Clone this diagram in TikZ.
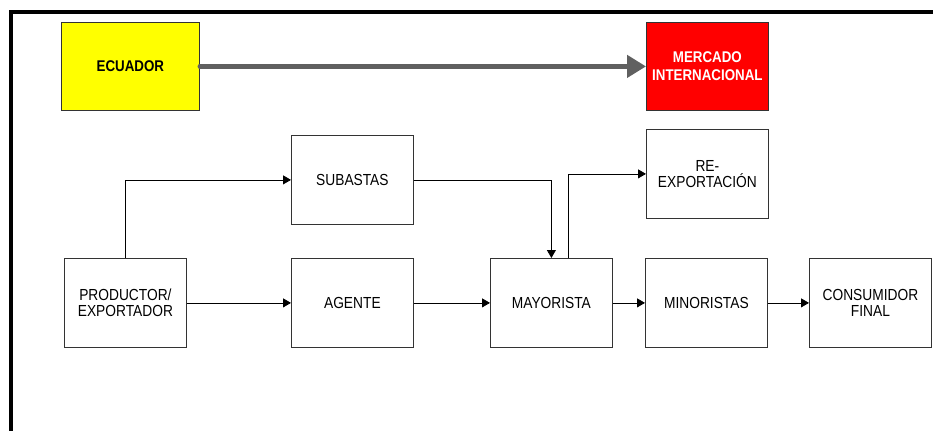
\documentclass[tikz,border=0pt]{standalone}
\usepackage{fontspec}
\setmainfont{Liberation Sans}[FakeStretch=0.86]
\usetikzlibrary{arrows.meta}
\definecolor{boxline}{HTML}{333333}
\definecolor{bigarrow}{HTML}{606060}
\definecolor{ecuyellow}{HTML}{FFFF00}
\definecolor{mktred}{HTML}{FF0000}
\begin{document}
\begin{tikzpicture}[x=1pt,y=-1pt,
  every node/.style={font=\fontsize{16}{16.5}\selectfont},
  flowbox/.style={draw=boxline,line width=0.8pt,fill=white,anchor=north west,
    minimum width=122pt,minimum height=89pt,inner sep=0pt,align=center},
  conn/.style={draw=black,line width=0.8pt,-{Triangle[length=8pt,width=9pt]}},
  frame/.style={line width=4pt,black}]
\useasboundingbox (0,0) rectangle (933,431);
% outer frame (top and left edges)
\draw[frame] (11,12) -- (933,12);
\draw[frame] (11,10) -- (11,431);
% top row
\node[flowbox,fill=ecuyellow,minimum width=138pt,minimum height=88pt,font=\fontsize{15.5}{16.5}\selectfont\bfseries] (ecu) at (61,22) {ECUADOR};
\node[flowbox,fill=mktred,text=white,minimum width=122pt,minimum height=88pt,font=\fontsize{15.5}{18}\selectfont\bfseries] (mkt) at (646,22) {MERCADO\\INTERNACIONAL};
\draw[bigarrow,line width=4.5pt,line cap=round,-{Triangle[length=19pt,width=22pt]}] (ecu.east) -- (mkt.west);
% middle row
\node[flowbox] (sub) at (291,135) {SUBASTAS};
\node[flowbox] (reexp) at (646,129) {RE-\\EXPORTACIÓN};
% bottom row
\node[flowbox] (prod) at (64,258) {PRODUCTOR/\\EXPORTADOR};
\node[flowbox] (agt) at (291,258) {AGENTE};
\node[flowbox] (may) at (490,258) {MAYORISTA};
\node[flowbox] (min) at (645,258) {MINORISTAS};
\node[flowbox] (cons) at (809,258) {CONSUMIDOR\\FINAL};
% connectors
\draw[conn] (prod.north) |- (sub.west);
\draw[conn] (sub.east) -| (may.north);
\draw[conn] ([xshift=17pt]may.north) |- (reexp.west);
\draw[conn] (prod.east) -- (agt.west);
\draw[conn] (agt.east) -- (may.west);
\draw[conn] (may.east) -- (min.west);
\draw[conn] (min.east) -- (cons.west);
\end{tikzpicture}
\end{document}
